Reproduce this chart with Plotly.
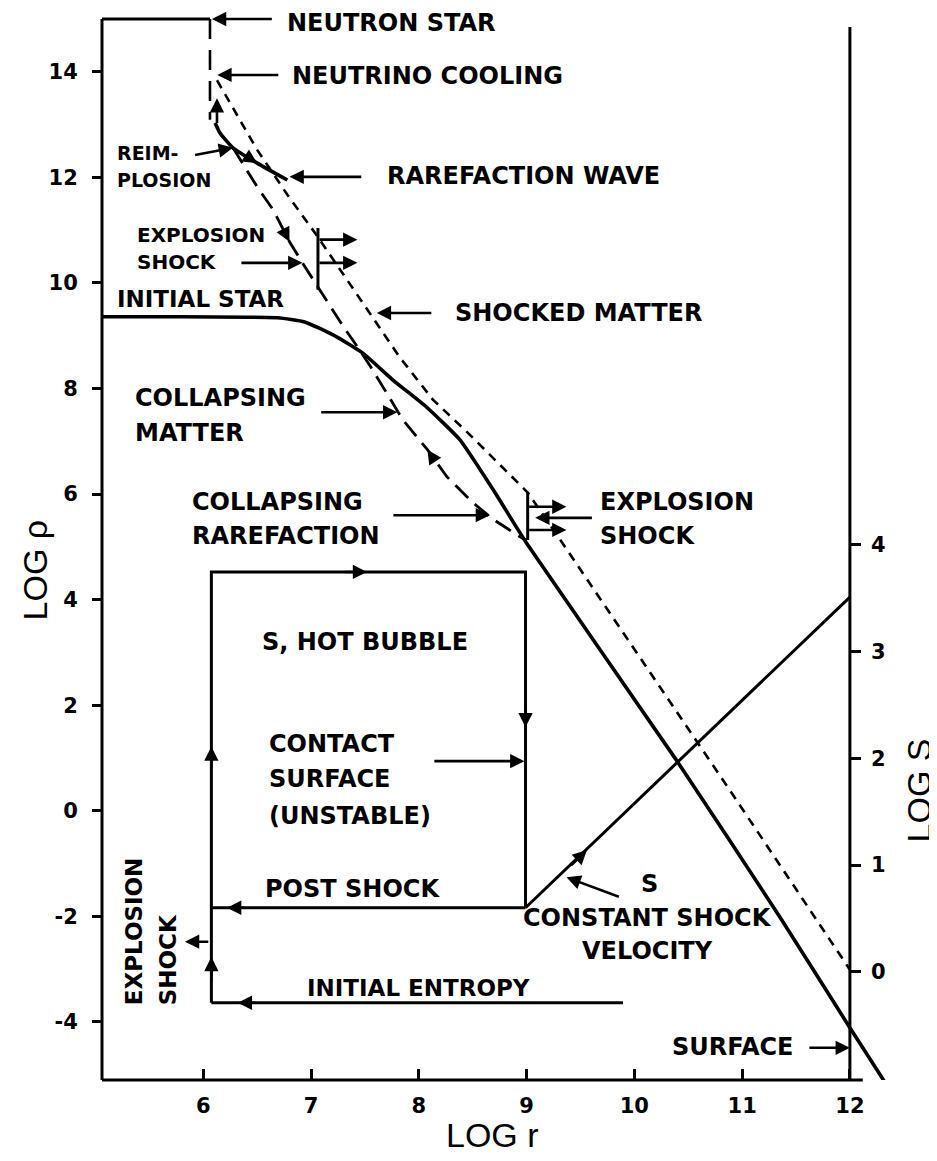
import plotly.graph_objects as go

# ---------------- axis ranges / ticks ----------------
X_RANGE = [5.06, 12.4]
Y_RANGE = [-5.1, 15.0]
S_OFFSET, S_SCALE = -3.05, 2.0225          # log rho = S_OFFSET + S_SCALE * log S (axis alignment)
S_RANGE = [(Y_RANGE[0] - S_OFFSET) / S_SCALE, (Y_RANGE[1] - S_OFFSET) / S_SCALE]

x_ticks = [6, 7, 8, 9, 10, 11, 12]
x_tick_labels = ["6", "7", "8", "9", "10", "11", "12"]
rho_ticks = [-4, -2, 0, 2, 4, 6, 8, 10, 12, 14]
rho_tick_labels = ["-4", "-2", "0", "2", "4", "6", "8", "10", "12", "14"]
s_ticks = [0, 1, 2, 3, 4]
s_tick_labels = ["0", "1", "2", "3", "4"]

# ---------------- density profiles (log r, log rho) ----------------
star_logr = [5.06, 5.8, 6.4, 6.69, 6.94, 7.20, 7.48, 7.76, 8.07, 8.38, 8.69, 9.0, 10.39, 11.35, 12.0, 12.34]
star_logrho = [9.36, 9.36, 9.35, 9.34, 9.26, 9.02, 8.67, 8.16, 7.65, 7.03, 6.08, 5.07, 0.96, -2.01, -4.11, -5.19]

shocked_logr = [6.127, 6.50, 6.78, 7.05, 7.27, 7.61, 7.82, 8.13, 8.45, 8.73, 9.01, 9.26, 10.82, 12.0]
shocked_logrho = [13.84, 12.52, 11.67, 10.91, 10.25, 9.24, 8.60, 7.79, 7.17, 6.60, 6.03, 5.29, 0.59, -3.01]

collapse_logr = [6.275, 6.50, 6.65, 6.80, 6.92, 7.08, 7.30, 7.43, 7.55, 7.70, 7.85, 8.08, 8.26, 8.50, 8.69, 8.94, 9.0]
collapse_logrho = [12.56, 11.82, 11.38, 10.78, 10.38, 9.87, 9.17, 8.79, 8.42, 7.92, 7.41, 6.84, 6.33, 5.84, 5.52, 5.19, 5.12]

rarefaction_logr = [6.11, 6.155, 6.275, 6.50, 6.78]
rarefaction_logrho = [13.03, 12.84, 12.56, 12.27, 11.95]

neutron_logr = [6.062, 6.062]
neutron_logrho = [15.0, 13.09]

shock1_logr = [7.064, 7.064]
shock1_logrho = [11.04, 9.87]
shock2_logr = [9.01, 9.01]
shock2_logrho = [6.04, 5.13]

# ---------------- entropy (log r, log S) ----------------
ent_init_logr = [9.894, 6.075]
ent_init_logS = [-0.29, -0.29]
bubble_logr = [6.075, 6.075, 8.99, 8.99]
bubble_logS = [-0.29, 3.745, 3.745, 0.60]
post_logr = [6.075, 8.99]
post_logS = [0.60, 0.60]
const_logr = [8.99, 12.0]
const_logS = [0.60, 3.51]

# ---------------- arrows (tail x, tail y, head x, head y, y-axis) ----------------
arrows = [
    (6.65, 15.0, 6.08, 15.0, "y"),        # neutron star
    (6.71, 13.94, 6.13, 13.94, "y"),      # neutrino cooling
    (6.127, 13.0, 6.127, 13.5, "y"),      # reimplosion up
    (5.91, 12.42, 6.275, 12.56, "y"),     # reim-plosion label
    (6.40, 12.40, 6.50, 12.27, "y"),      # on rarefaction wave
    (7.48, 12.01, 6.80, 12.01, "y"),      # rarefaction wave label
    (6.755, 10.96, 6.80, 10.78, "y"),     # collapsing dashed
    (6.34, 10.38, 6.92, 10.38, "y"),      # explosion shock label
    (7.064, 10.82, 7.43, 10.82, "y"),     # shock moves out
    (7.064, 10.38, 7.43, 10.38, "y"),
    (8.13, 9.43, 7.61, 9.43, "y"),        # shocked matter
    (7.08, 7.55, 7.80, 7.55, "y"),        # collapsing matter
    (8.15, 6.62, 8.08, 6.84, "y"),        # collapsing rarefaction dashed
    (7.75, 5.60, 8.66, 5.60, "y"),        # collapsing rarefaction label
    (9.01, 5.76, 9.37, 5.76, "y"),        # shock at 9
    (9.01, 5.32, 9.37, 5.32, "y"),
    (9.62, 5.55, 9.08, 5.55, "y"),        # explosion shock label right
    (8.13, 0.94, 8.98, 0.94, "y"),        # contact surface
    (6.06, -2.48, 5.83, -2.48, "y"),      # explosion shock (vertical text)
    (9.87, -1.64, 9.37, -1.26, "y"),      # S
    (11.61, -4.49, 12.0, -4.49, "y"),     # surface
    (6.50, -0.29, 6.32, -0.29, "y2"),     # initial entropy
    (6.075, -0.10, 6.075, 0.14, "y2"),    # shock jump up
    (6.075, 1.90, 6.075, 2.11, "y2"),
    (7.30, 3.745, 7.52, 3.745, "y2"),     # bubble top
    (8.99, 2.50, 8.99, 2.29, "y2"),       # contact surface down
    (6.40, 0.60, 6.22, 0.60, "y2"),       # post shock
    (9.40, 0.985, 9.56, 1.14, "y2"),      # constant shock velocity
]

# ---------------- labels ----------------
labels = [
    ("NEUTRON STAR", 6.758, 14.92, 24),
    ("NEUTRINO COOLING", 6.805, 13.92, 24),
    ("REIM-", 5.18, 12.46, 19),
    ("PLOSION", 5.18, 11.95, 19),
    ("RAREFACTION WAVE", 7.686, 12.03, 24),
    ("EXPLOSION", 5.366, 10.91, 20),
    ("SHOCK", 5.366, 10.40, 20),
    ("INITIAL STAR", 5.18, 9.70, 23),
    ("SHOCKED MATTER", 8.316, 9.43, 24),
    ("COLLAPSING", 5.349, 7.82, 24),
    ("MATTER", 5.349, 7.16, 24),
    ("COLLAPSING", 5.876, 5.85, 24),
    ("RAREFACTION", 5.876, 5.21, 24),
    ("EXPLOSION", 9.661, 5.85, 24),
    ("SHOCK", 9.661, 5.21, 24),
    ("S, HOT BUBBLE", 6.526, 3.20, 24),
    ("CONTACT", 6.591, 1.27, 24),
    ("SURFACE", 6.591, 0.61, 24),
    ("(UNSTABLE)", 6.591, -0.09, 24),
    ("POST SHOCK", 6.554, -1.49, 24),
    ("INITIAL ENTROPY", 6.944, -3.35, 23),
    ("SURFACE", 10.33, -4.47, 24),
]
center_labels = [
    ("S", 10.143, -1.38, 24, 0),
    ("CONSTANT SHOCK", 10.124, -2.04, 24, 0),
    ("VELOCITY", 10.124, -2.65, 24, 0),
    ("EXPLOSION", 5.358, -2.28, 23, -90),
    ("SHOCK", 5.674, -2.83, 23, -90),
]

LABEL_FONT = dict(family="DejaVu Sans", color="black", weight="bold")
K = "black"

fig = go.Figure()


def line(x, y, width=3.2, dash="solid", yaxis="y", shape="linear"):
    fig.add_trace(go.Scatter(x=x, y=y, mode="lines", yaxis=yaxis, showlegend=False,
                             hoverinfo="skip",
                             line=dict(color=K, width=width, dash=dash, shape=shape,
                                       smoothing=0.5 if shape == "spline" else None)))


line(star_logr, star_logrho, width=3.6, shape="spline")
line(shocked_logr, shocked_logrho, width=2.6, dash="9px,7px")
line(collapse_logr, collapse_logrho, width=2.8, dash="18px,9px")
line(rarefaction_logr, rarefaction_logrho, width=3.6, shape="spline")
line(neutron_logr, neutron_logrho, width=2.6, dash="20px,11px")
line(shock1_logr, shock1_logrho, width=3)
line(shock2_logr, shock2_logrho, width=3)
line(ent_init_logr, ent_init_logS, width=3, yaxis="y2")
line(bubble_logr, bubble_logS, width=3, yaxis="y2")
line(post_logr, post_logS, width=3, yaxis="y2")
line(const_logr, const_logS, width=3, yaxis="y2")

annotations = []
for tx, ty, hx, hy, ya in arrows:
    annotations.append(dict(x=hx, y=hy, ax=tx, ay=ty, xref="x", yref=ya, axref="x", ayref=ya,
                            text="", showarrow=True, arrowhead=2, arrowsize=1.1,
                            arrowwidth=2.6, arrowcolor=K))
for text, x, y, size in labels:
    annotations.append(dict(text=text, x=x, y=y, xref="x", yref="y", showarrow=False,
                            xanchor="left", yanchor="middle", font=dict(size=size, **LABEL_FONT)))
for text, x, y, size, ang in center_labels:
    annotations.append(dict(text=text, x=x, y=y, xref="x", yref="y", showarrow=False,
                            xanchor="center", yanchor="middle", textangle=ang,
                            font=dict(size=size, **LABEL_FONT)))

TITLE_FONT = dict(family="Liberation Sans", size=34, color="black")
annotations += [
    dict(text="LOG ρ", x=-0.085, y=0.481, xref="paper", yref="paper", showarrow=False,
         textangle=-90, xanchor="center", yanchor="middle", font=TITLE_FONT),
    dict(text="LOG r", x=0.494, y=-0.052, xref="paper", yref="paper", showarrow=False,
         xanchor="center", yanchor="middle", font=TITLE_FONT),
    dict(text="LOG S", x=1.033, y=0.273, xref="paper", yref="paper", showarrow=False,
         textangle=-90, xanchor="center", yanchor="middle", font=TITLE_FONT),
]


def px(v):
    return (v - X_RANGE[0]) / (X_RANGE[1] - X_RANGE[0])


def py(v):
    return (v - Y_RANGE[0]) / (Y_RANGE[1] - Y_RANGE[0])


frame = dict(type="line", xref="paper", yref="paper", line=dict(color=K, width=3))
shapes = [
    dict(frame, x0=0, x1=0, y0=0, y1=1),                          # left axis
    dict(frame, x0=0, x1=px(12.12), y0=0, y1=0),                  # bottom axis
    dict(frame, x0=0, x1=px(neutron_logr[0]), y0=1, y1=1),        # top segment
    dict(frame, x0=px(12.0), x1=px(12.0), y0=0, y1=py(14.85)),    # right (log S) axis
]

TICK_FONT = dict(family="DejaVu Sans", size=21, color="black", weight="bold")
# the page body has an 8px margin, so the figure is 8px smaller than the window
fig.update_layout(
    width=929, height=1153,
    margin=dict(l=94, r=44, t=11, b=81),
    paper_bgcolor="white", plot_bgcolor="white",
    showlegend=False,
    annotations=annotations,
    shapes=shapes,
    xaxis=dict(range=X_RANGE, tickvals=x_ticks, ticktext=x_tick_labels, ticks="inside",
               ticklen=11, tickwidth=2.5, tickcolor=K, showgrid=False, zeroline=False,
               showline=False, tickfont=TICK_FONT, ticklabelstandoff=11),
    yaxis=dict(range=Y_RANGE, tickvals=rho_ticks, ticktext=rho_tick_labels, ticks="outside",
               ticklen=9, tickwidth=2.5, tickcolor=K, showgrid=False, zeroline=False,
               showline=False, tickfont=TICK_FONT, ticklabelstandoff=10),
    yaxis2=dict(range=S_RANGE, overlaying="y", anchor="free", position=px(12.0), side="right",
                tickvals=s_ticks, ticktext=s_tick_labels, ticks="outside", ticklen=10,
                tickwidth=2.5, tickcolor=K, showgrid=False, zeroline=False, showline=False,
                tickfont=TICK_FONT, ticklabelstandoff=6),
)

fig.write_html("out.html")
